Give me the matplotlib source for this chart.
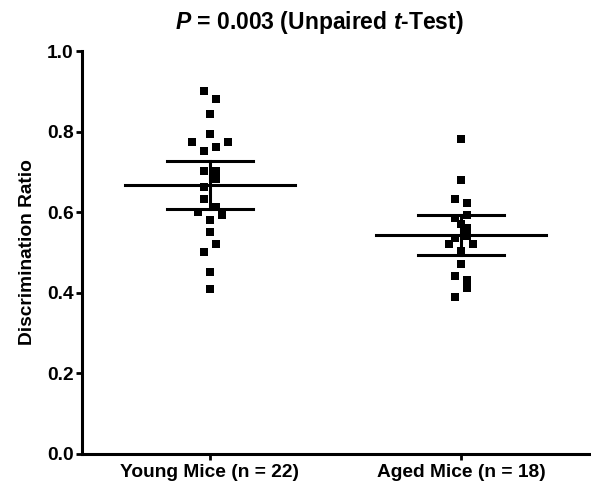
import numpy as np
import matplotlib
matplotlib.use("Agg")
import matplotlib.pyplot as plt

plt.rcParams['font.family'] = ['Liberation Sans', 'DejaVu Sans']
plt.rcParams['font.weight'] = 'bold'
plt.rcParams['mathtext.fontset'] = 'custom'
plt.rcParams['mathtext.rm'] = 'Liberation Sans:bold'
plt.rcParams['mathtext.bfit'] = 'Liberation Sans:italic:bold'
plt.rcParams['mathtext.it'] = 'Liberation Sans:italic:bold'

# data
groups = ["Young Mice (n = 22)", "Aged Mice (n = 18)"]
young = [0.900, 0.882, 0.843, 0.793, 0.773, 0.773, 0.752, 0.761, 0.703, 0.703, 0.682,
         0.662, 0.633, 0.614, 0.600, 0.592, 0.581, 0.551, 0.521, 0.501, 0.451, 0.410]
young_cols = [-1, 1, 0, 0, -3, 3, -1, 1, -1, 1, 1,
              -1, -1, 1, -2, 2, 0, 0, 1, -1, 0, 0]
aged = [0.782, 0.681, 0.632, 0.622, 0.585, 0.592, 0.571, 0.560, 0.535, 0.541,
        0.521, 0.521, 0.504, 0.471, 0.442, 0.431, 0.411, 0.390]
aged_cols = [0, 0, -1, 1, -1, 1, 0, 1, -1, 1,
             -2, 2, 0, 0, -1, 1, 1, -1]
t_crit = {21: 2.080, 17: 2.110}  # two-sided 95% t values

fig = plt.figure(figsize=(5.91, 4.84), dpi=100)
ax = fig.add_axes([0.1387, 0.062, 0.8613, 0.8326])

col_step = 0.024
for i, (vals, cols) in enumerate([(young, young_cols), (aged, aged_cols)]):
    vals = np.array(vals)
    x = i + np.array(cols) * col_step
    # mean +/- 95% CI
    m = vals.mean()
    n = len(vals)
    ci = t_crit[n - 1] * vals.std(ddof=1) / np.sqrt(n)
    ax.plot([i - 0.34, i + 0.34], [m, m], color='black', lw=2.2, zorder=3)
    ax.plot([i - 0.17, i + 0.17], [m + ci, m + ci], color='black', lw=2.2, zorder=3)
    ax.plot([i - 0.17, i + 0.17], [m - ci, m - ci], color='black', lw=2.2, zorder=3)
    ax.plot([i, i], [m - ci, m + ci], color='black', lw=2.2, zorder=3)
    ax.scatter(x, vals, marker='s', s=36, color='black', linewidths=0, zorder=2)

ax.set_xlim(-0.51, 1.518)
ax.set_ylim(0, 1.0)
ax.set_xticks([0, 1])
ax.set_xticklabels(groups)
ax.set_yticks([0, 0.2, 0.4, 0.6, 0.8, 1.0])
ax.set_yticklabels(['0.0', '0.2', '0.4', '0.6', '0.8', '1.0'])
ax.tick_params(labelsize=13.8, width=2, length=4)
ax.tick_params(axis='y', pad=2)
ax.tick_params(axis='x', pad=3)
for s in ['top', 'right']:
    ax.spines[s].set_visible(False)
for s in ['left', 'bottom']:
    ax.spines[s].set_linewidth(2.2)
ax.set_ylabel('Discrimination Ratio', fontsize=13.8, fontweight='bold', labelpad=8)

fig.text(319 / 591, 1 - 23 / 484, r"$\mathbfit{P}$ = 0.003 (Unpaired $\mathbfit{t}$-Test)",
         ha='center', va='center', fontsize=16.5, fontweight='bold')

fig.savefig('out.png', dpi=100)
